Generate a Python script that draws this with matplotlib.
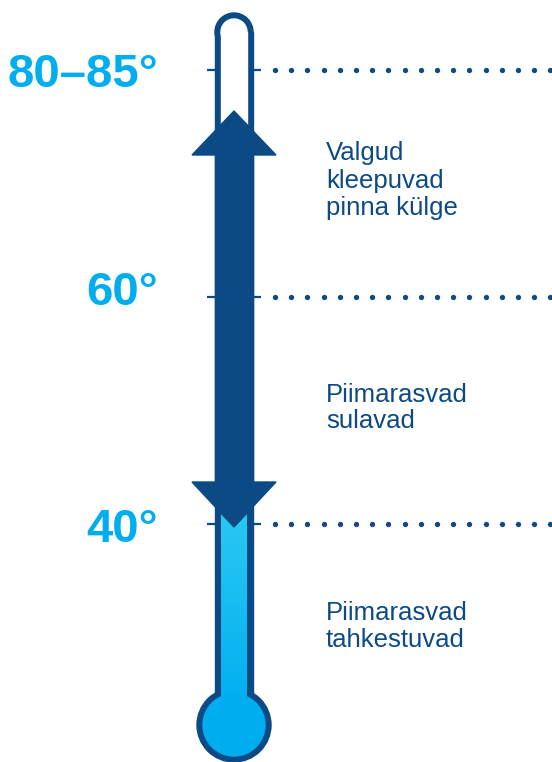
import matplotlib
matplotlib.use("Agg")
import matplotlib.pyplot as plt
import numpy as np
from matplotlib.patches import Circle, Rectangle, Polygon

# temperature marks
temps = [80, 60, 40]
temp_labels = ["80–85°", "60°", "40°"]
label_baseline = [87, 305, 542]   # text baselines (px)

# side notes
notes = [
    ["Valgud", "kleepuvad", "pinna külge"],
    ["Piimarasvad", "sulavad"],
    ["Piimarasvad", "tahkestuvad"],
]
note_baselines = [[160, 188, 215], [402, 428], [620, 647]]

DARK = "#0b4a84"
CYAN = "#00aeef"

# px scale: 40° -> 524, 80° -> 70
def ty(t):
    return 524 - (t - 40) * (524 - 70) / 40.0

fig = plt.figure(figsize=(5.52, 7.62), dpi=100)
ax = fig.add_axes([0, 0, 1, 1])
ax.set_xlim(0, 552)
ax.set_ylim(762, 0)
ax.axis("off")

cx = 234
top_liq, bot_liq = 500, 712
# --- thermometer body ---
ax.add_patch(Circle((cx, 32), 19, color=DARK, zorder=1))
ax.add_patch(Rectangle((215, 32), 38, 680, color=DARK, zorder=1))
ax.add_patch(Circle((cx, 725), 37, color=DARK, zorder=1))
ax.add_patch(Circle((cx, 32), 13, color="white", zorder=2))
ax.add_patch(Rectangle((221, 32), 26, top_liq - 30, color="white", zorder=2))

# liquid with gradient
grad = np.linspace(0, 1, 100).reshape(-1, 1)
cmap = matplotlib.colors.LinearSegmentedColormap.from_list("liq", ["#2ccaf3", CYAN])
ax.imshow(grad, cmap=cmap, extent=[221, 247, bot_liq, top_liq], aspect="auto",
          zorder=3, interpolation="bilinear")
ax.add_patch(Circle((cx, 725), 31, color=CYAN, zorder=3))
ax.set_xlim(0, 552)
ax.set_ylim(762, 0)

# --- double arrow ---
ax.add_patch(Rectangle((215, 150), 38, 337, color=DARK, zorder=4))
ax.add_patch(Polygon([(192, 155), (276, 155), (cx, 111)], closed=True, color=DARK, zorder=4))
ax.add_patch(Polygon([(192, 482), (276, 482), (cx, 527)], closed=True, color=DARK, zorder=4))

# --- ticks, dotted guides, labels ---
dots_x = np.arange(275, 552, 16.2)
for t, lab, bl in zip(temps, temp_labels, label_baseline):
    y = ty(t)
    ax.plot([207, 215], [y, y], color=DARK, lw=1.6, solid_capstyle="butt", zorder=1)
    ax.plot([253, 261], [y, y], color=DARK, lw=1.6, solid_capstyle="butt", zorder=1)
    ax.plot(dots_x, np.full_like(dots_x, y), ls="none", marker="o", ms=3.8,
            color=DARK, markeredgewidth=0)
    ax.text(158, bl, lab, ha="right", va="baseline", fontsize=34, fontweight="bold",
            color=CYAN, family="Liberation Sans")

for lines, bls in zip(notes, note_baselines):
    for line, bl in zip(lines, bls):
        ax.text(326, bl, line, ha="left", va="baseline", fontsize=18.5,
                color=DARK, family="Liberation Sans")

plt.savefig("out.png", dpi=100)
